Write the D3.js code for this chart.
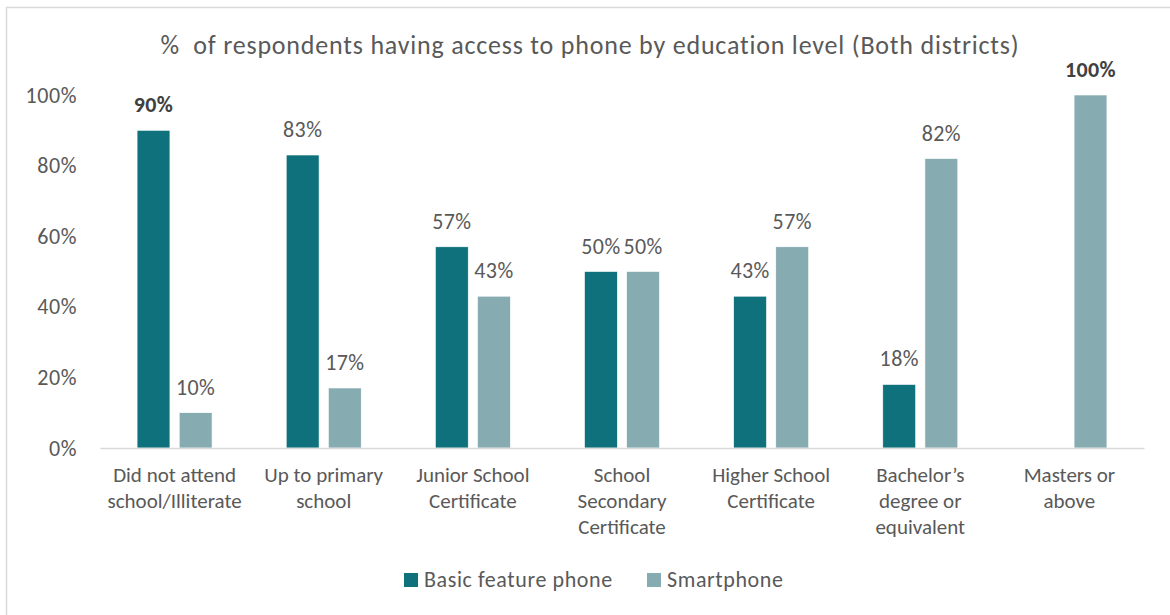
<!DOCTYPE html>
<html>
<head>
<meta charset="utf-8">
<script src="https://cdn.jsdelivr.net/npm/d3@7"></script>
<style>
  html, body { margin: 0; padding: 0; background: #ffffff; }
  svg { display: block; font-family: Carlito, Calibri, Lato, "Noto Sans", sans-serif; }
</style>
</head>
<body>
<svg id="chart" width="1170" height="615"></svg>
<script>
// Education levels (x categories); "\n" marks a line break in the axis label
const categories = [
  "Did not attend\nschool/Illiterate",
  "Up to primary\nschool",
  "Junior School\nCertificate",
  "School\nSecondary\nCertificate",
  "Higher School\nCertificate",
  "Bachelor\u2019s\ndegree or\nequivalent",
  "Masters or\nabove"
];

// Share of respondents per phone type (percent); null = no bar
const basicFeaturePhone = [90, 83, 57, 50, 43, 18, null];
const smartphone        = [10, 17, 43, 50, 57, 82, 100];

const seriesNames  = ["Basic feature phone", "Smartphone"];
const seriesColors = ["#0e717b", "#86abb1"];

// Labels drawn in bold: [category index, series index]
const boldLabels = [[0, 0], [6, 1]];

const yTicks = [0, 20, 40, 60, 80, 100];
const title = "%\u00a0 of respondents having access to phone by education level (Both districts)";

const svg = d3.select("#chart");
const W = 1170, H = 615;
const textColor = "#595959";

// Outer chart frame
svg.append("rect")
  .attr("x", 6.5).attr("y", 7.5)
  .attr("width", W + 10).attr("height", H + 10)
  .attr("fill", "#ffffff")
  .attr("stroke", "#d9d9d9").attr("stroke-width", 1.5);

const plot = { left: 100, right: 1144, top: 95, bottom: 448 };

const x0 = d3.scaleBand()
  .domain(d3.range(categories.length))
  .range([plot.left, plot.right]);

const x1 = d3.scaleBand()
  .domain(d3.range(seriesNames.length))
  .range([0, x0.bandwidth()])
  .paddingInner(0.22)
  .paddingOuter(0.88);

const y = d3.scaleLinear().domain([0, 100]).range([plot.bottom, plot.top]);

// Title
svg.append("text")
  .attr("x", 590).attr("y", 54)
  .attr("text-anchor", "middle")
  .attr("fill", textColor)
  .style("font-size", "26px")
  .style("letter-spacing", "0.8px")
  .text(title);

// Y axis (labels only, no gridlines)
const yAxis = d3.axisLeft(y)
  .tickValues(yTicks)
  .tickFormat(d => d + "%")
  .tickSize(0)
  .tickPadding(0);

const yG = svg.append("g")
  .attr("transform", `translate(77,0)`)
  .call(yAxis);
yG.attr("font-family", null);
yG.select(".domain").remove();
yG.selectAll("text")
  .attr("fill", textColor)
  .style("font-size", "22px")
  .style("letter-spacing", "0.6px");

// Bars
const rows = [];
categories.forEach((c, i) => {
  [basicFeaturePhone[i], smartphone[i]].forEach((v, s) => {
    if (v !== null) rows.push({ i, s, v });
  });
});

svg.append("g").selectAll("rect")
  .data(rows)
  .join("rect")
  .attr("x", d => x0(d.i) + x1(d.s))
  .attr("y", d => y(d.v))
  .attr("width", x1.bandwidth())
  .attr("height", d => y(0) - y(d.v))
  .attr("fill", d => seriesColors[d.s])
  .attr("stroke", "#ffffff")
  .attr("stroke-width", 0.6);

// Value labels
const isBold = d => boldLabels.some(([i, s]) => i === d.i && s === d.s);
svg.append("g").selectAll("text")
  .data(rows)
  .join("text")
  .attr("x", d => x0(d.i) + x1(d.s) + x1.bandwidth() / 2)
  .attr("y", d => y(d.v) - 18)
  .attr("text-anchor", "middle")
  .attr("fill", d => isBold(d) ? "#404040" : textColor)
  .style("font-size", "22px")
  .style("letter-spacing", "0.4px")
  .style("font-weight", d => isBold(d) ? "bold" : "normal")
  .text(d => d.v + "%");

// X axis line and category labels
const xAxis = d3.axisBottom(x0).tickSize(0).tickFormat("");
const xG = svg.append("g")
  .attr("transform", `translate(0,${plot.bottom})`)
  .call(xAxis);
xG.select(".domain").attr("stroke", "#d9d9d9").attr("stroke-width", 1.5);

const catG = svg.append("g");
categories.forEach((c, i) => {
  const cx = x0(i) + x0.bandwidth() / 2;
  const t = catG.append("text")
    .attr("x", cx)
    .attr("y", 482)
    .attr("text-anchor", "middle")
    .attr("fill", textColor)
    .style("font-size", "21px");
  c.split("\n").forEach((line, k) => {
    t.append("tspan")
      .attr("x", cx)
      .attr("dy", k === 0 ? 0 : 26)
      .text(line);
  });
});

// Legend
const legendItems = [
  { name: seriesNames[0], color: seriesColors[0], x: 404 },
  { name: seriesNames[1], color: seriesColors[1], x: 647 }
];
const lg = svg.append("g");
legendItems.forEach(it => {
  lg.append("rect")
    .attr("x", it.x).attr("y", 573)
    .attr("width", 14).attr("height", 14)
    .attr("fill", it.color);
  lg.append("text")
    .attr("x", it.x + 20).attr("y", 587)
    .attr("fill", textColor)
    .style("font-size", "22px")
    .style("letter-spacing", "0.6px")
    .text(it.name);
});
</script>
</body>
</html>
